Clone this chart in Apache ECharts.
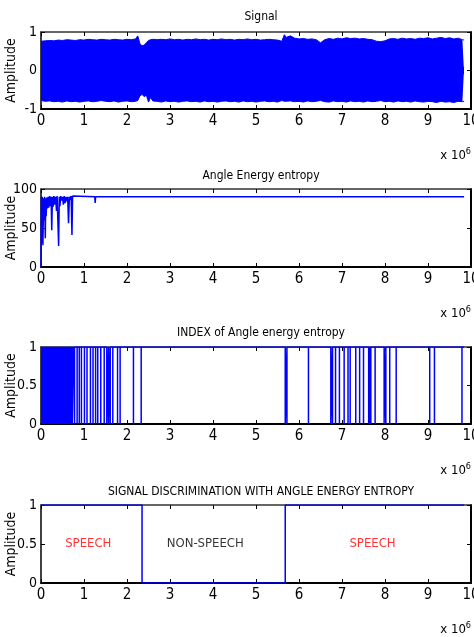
<!DOCTYPE html>
<html>
<head>
<meta charset="utf-8">
<script src="https://cdn.jsdelivr.net/npm/echarts@6/dist/echarts.min.js"></script>
<style>
  html, body { margin: 0; padding: 0; background: #fff; }
  #chart { width: 474px; height: 637px; }
</style>
</head>
<body>
<div id="chart"></div>
<script>
// x values are in units of 10^6 samples
const xTicks = [0, 1, 2, 3, 4, 5, 6, 7, 8, 9, 10];

// Signal envelope (upper / lower amplitude)
const signalX = [0, 0.1, 0.2, 0.3, 0.4, 0.5, 0.6, 0.7, 0.8, 0.9, 1.0, 1.1, 1.2, 1.3, 1.4, 1.5, 1.6, 1.7, 1.8, 1.9,
  2.0, 2.1, 2.2, 2.25, 2.3, 2.35, 2.4, 2.45, 2.5, 2.55, 2.6, 2.7, 2.8, 2.9, 3.0, 3.1, 3.2, 3.3, 3.4, 3.5, 3.6, 3.7,
  3.8, 3.9, 4.0, 4.1, 4.2, 4.3, 4.4, 4.5, 4.6, 4.7, 4.8, 4.9, 5.0, 5.1, 5.2, 5.3, 5.4, 5.5, 5.6, 5.64, 5.66, 5.7,
  5.8, 5.9, 6.0, 6.1, 6.2, 6.3, 6.4, 6.5, 6.6, 6.7, 6.8, 6.9, 7.0, 7.1, 7.2, 7.3, 7.4, 7.5, 7.6, 7.7, 7.8, 7.9, 8.0,
  8.1, 8.2, 8.3, 8.4, 8.5, 8.6, 8.7, 8.8, 8.9, 9.0, 9.1, 9.2, 9.3, 9.4, 9.5, 9.6, 9.7, 9.8, 9.84];
const signalUpper = [0.76, 0.77, 0.78, 0.77, 0.79, 0.78, 0.80, 0.79, 0.78, 0.80, 0.79, 0.81, 0.80, 0.79, 0.81, 0.80,
  0.79, 0.81, 0.80, 0.79, 0.81, 0.80, 0.82, 0.90, 0.70, 0.64, 0.66, 0.72, 0.78, 0.80, 0.81, 0.80, 0.81, 0.80, 0.82,
  0.80, 0.81, 0.79, 0.81, 0.80, 0.82, 0.80, 0.81, 0.79, 0.81, 0.80, 0.82, 0.80, 0.81, 0.79, 0.81, 0.80, 0.82, 0.80,
  0.81, 0.79, 0.80, 0.81, 0.80, 0.79, 0.76, 0.74, 0.93, 0.86, 0.90, 0.84, 0.82, 0.83, 0.81, 0.82, 0.80, 0.72, 0.80,
  0.83, 0.81, 0.84, 0.82, 0.85, 0.83, 0.84, 0.82, 0.83, 0.81, 0.80, 0.76, 0.75, 0.77, 0.82, 0.83, 0.81, 0.84, 0.82,
  0.83, 0.81, 0.84, 0.83, 0.85, 0.82, 0.84, 0.86, 0.83, 0.85, 0.82, 0.84, 0.80, 0.79];
const signalLower = [-0.78, -0.80, -0.79, -0.81, -0.80, -0.82, -0.79, -0.81, -0.80, -0.82, -0.80, -0.79, -0.81, -0.80,
  -0.78, -0.80, -0.81, -0.79, -0.82, -0.80, -0.79, -0.81, -0.80, -0.78, -0.66, -0.62, -0.68, -0.64, -0.82, -0.70,
  -0.79, -0.80, -0.82, -0.79, -0.81, -0.80, -0.82, -0.80, -0.79, -0.81, -0.80, -0.82, -0.79, -0.81, -0.80, -0.82,
  -0.80, -0.79, -0.81, -0.80, -0.82, -0.79, -0.81, -0.80, -0.82, -0.80, -0.79, -0.81, -0.80, -0.82, -0.78, -0.76,
  -0.80, -0.82, -0.79, -0.81, -0.80, -0.82, -0.79, -0.81, -0.80, -0.78, -0.81, -0.82, -0.79, -0.81, -0.80, -0.82,
  -0.79, -0.81, -0.80, -0.82, -0.79, -0.81, -0.80, -0.78, -0.81, -0.80, -0.82, -0.79, -0.81, -0.80, -0.82, -0.79,
  -0.81, -0.82, -0.80, -0.81, -0.83, -0.80, -0.82, -0.81, -0.83, -0.80, -0.81, -0.80];

// Angle energy entropy
const entropyX = [0, 0.01, 0.02, 0.03, 0.045, 0.06, 0.07, 0.085, 0.1, 0.11, 0.12, 0.135, 0.15, 0.165, 0.18, 0.2,
  0.22, 0.235, 0.25, 0.265, 0.28, 0.3, 0.32, 0.34, 0.36, 0.375, 0.41, 0.425, 0.44, 0.46, 0.48, 0.5, 0.52, 0.54,
  0.56, 0.58, 0.6, 0.62, 0.64, 0.66, 0.68, 0.7, 0.72, 0.735, 1.25, 1.26, 1.27, 7.65, 7.66, 7.67, 9.84];
const entropyY = [0, 90, 30, 90, 28, 88, 60, 90, 37, 88, 65, 89, 75, 90, 76, 91, 78, 90, 47, 90, 77, 91, 80, 90,
  72, 91, 27, 90, 78, 91, 85, 90, 80, 91, 82, 90, 84, 90, 56, 90, 86, 91, 41, 91, 90, 82, 90, 90, 88, 90, 90];

// INDEX of angle energy entropy: dense switching block, then single drops to 0
const indexDenseEnd = 0.745;
const indexDrops = [0.78, 0.84, 0.89, 0.94, 1.01, 1.07, 1.15, 1.21, 1.27, 1.32, 1.39, 1.47, 1.53, 1.57, 1.61,
  1.67, 1.78, 1.84, 2.15, 2.33, 5.68, 5.72, 6.22, 6.74, 6.78, 6.85, 6.94, 7.05, 7.14, 7.19, 7.32, 7.41, 7.50,
  7.62, 7.64, 7.67, 7.77, 7.98, 8.02, 8.11, 8.26, 9.04, 9.15, 9.79];
const indexEnd = 9.84;

// Discrimination: segment edges and state
const segEdges = [0, 2.35, 5.68, 9.84];
const segState = [1, 0, 1];
const segLabels = ['SPEECH', 'NON-SPEECH', 'SPEECH'];
const segLabelX = [1.1, 3.82, 7.71];
const segLabelColors = ['#ff0000', '#000000', '#ff0000'];

const titles = ['Signal', 'Angle Energy entropy', 'INDEX of Angle energy entropy',
  'SIGNAL DISCRIMINATION WITH ANGLE ENERGY ENTROPY'];

const fontFam = "'Liberation Sans Narrow', 'DejaVu Sans Condensed', 'Liberation Sans', sans-serif";
const blue = '#0000ff';

const grids = [
  { left: 41, top: 32, width: 430, height: 77, outerBoundsMode: 'none' },
  { left: 41, top: 189, width: 430, height: 78, outerBoundsMode: 'none' },
  { left: 41, top: 347, width: 430, height: 77, outerBoundsMode: 'none' },
  { left: 41, top: 505, width: 430, height: 78, outerBoundsMode: 'none' }
];
const titleTops = [6, 165, 322, 481];
const yRanges = [[-1, 1, 1], [0, 100, 50], [0, 1, 0.5], [0, 1, 0.5]];

let xAxes = [];
let yAxes = [];
grids.forEach((g, i) => {
  xAxes.push({
    gridIndex: i, type: 'value', position: 'bottom',
    min: xTicks[0], max: xTicks[xTicks.length - 1], interval: 1,
    axisLine: { onZero: false, lineStyle: { color: '#000', width: 2 } },
    axisTick: { inside: true, length: 4, lineStyle: { color: '#000' } },
    axisLabel: { color: '#000', fontSize: 15, fontFamily: fontFam, margin: 5 },
    splitLine: { show: false },
    name: 'x 10{s|6}', nameLocation: 'end', nameGap: 0, nameMoveOverlap: false,
    nameTextStyle: {
      color: '#000', fontSize: 13, fontFamily: fontFam, align: 'right', verticalAlign: 'top',
      padding: [38, 0, 0, 0],
      rich: { s: { fontSize: 9, fontFamily: fontFam, color: '#000', verticalAlign: 'top', padding: [0, 0, 8, 0] } }
    }
  });
  xAxes.push({
    gridIndex: i, type: 'value', position: 'top',
    min: xTicks[0], max: xTicks[xTicks.length - 1], interval: 1,
    axisLine: { onZero: false, lineStyle: { color: '#333', width: 1.5 } },
    axisTick: { inside: true, length: 4, lineStyle: { color: '#000' } },
    axisLabel: { show: false },
    splitLine: { show: false }
  });
  const r = yRanges[i];
  yAxes.push({
    gridIndex: i, type: 'value', position: 'left',
    min: r[0], max: r[1], interval: r[2],
    axisLine: { show: true, onZero: false, lineStyle: { color: '#000', width: 1.5 } },
    axisTick: { show: true, inside: true, length: 4, lineStyle: { color: '#000' } },
    axisLabel: { color: '#000', fontSize: 14, fontFamily: fontFam, margin: 4 },
    splitLine: { show: false },
    name: 'Amplitude', nameLocation: 'middle', nameGap: 23, nameMoveOverlap: false,
    nameTextStyle: { color: '#000', fontSize: 14, fontFamily: fontFam }
  });
  yAxes.push({
    gridIndex: i, type: 'value', position: 'right',
    min: r[0], max: r[1], interval: r[2],
    axisLine: { show: true, onZero: false, lineStyle: { color: '#000', width: 2 } },
    axisTick: { show: true, inside: true, length: 4, lineStyle: { color: '#000' } },
    axisLabel: { show: false },
    splitLine: { show: false }
  });
});

// build plotted point lists from the arrays above
const upperData = signalX.map((x, k) => [x, signalUpper[k]]);
const lowerData = signalX.map((x, k) => [x, signalLower[k]]);
const entropyData = entropyX.map((x, k) => [x, entropyY[k]]);

let indexData = [[indexDenseEnd, 1]];
indexDrops.forEach(p => {
  indexData.push([p, 1], [p, 0], [p, 1]);
});
indexData.push([indexEnd, 1]);

let segData = [];
segState.forEach((s, k) => {
  segData.push([segEdges[k], s], [segEdges[k + 1], s]);
});

const labelData = segLabels.map((name, k) => ({
  name: name,
  value: [segLabelX[k], 0.5],
  label: { color: segLabelColors[k] }
}));

let option = {
  animation: false,
  backgroundColor: '#fff',
  title: titles.map((t, i) => ({
    text: t, left: 256, top: titleTops[i], textAlign: 'center',
    textStyle: { fontSize: 12, fontWeight: 'normal', color: '#000', fontFamily: fontFam }
  })),
  grid: grids,
  xAxis: xAxes,
  yAxis: yAxes,
  series: [
    {
      type: 'line', xAxisIndex: 0, yAxisIndex: 0, data: upperData, showSymbol: false,
      lineStyle: { color: blue, width: 1 }, areaStyle: { color: blue, opacity: 1, origin: -0.1 }
    },
    {
      type: 'line', xAxisIndex: 0, yAxisIndex: 0, data: lowerData, showSymbol: false,
      lineStyle: { color: blue, width: 1 }, areaStyle: { color: blue, opacity: 1, origin: 0.1 }
    },
    {
      type: 'line', xAxisIndex: 2, yAxisIndex: 2, data: entropyData, showSymbol: false,
      lineStyle: { color: blue, width: 1.5 }
    },
    {
      type: 'line', xAxisIndex: 4, yAxisIndex: 4, data: [[0, 1], [indexDenseEnd, 1]], showSymbol: false,
      lineStyle: { color: blue, width: 1 }, areaStyle: { color: blue, opacity: 1 }
    },
    {
      type: 'line', xAxisIndex: 4, yAxisIndex: 4, data: indexData, showSymbol: false,
      lineStyle: { color: blue, width: 1.5 }
    },
    {
      type: 'line', xAxisIndex: 6, yAxisIndex: 6, data: segData, showSymbol: false,
      lineStyle: { color: blue, width: 1.5 }
    },
    {
      type: 'scatter', xAxisIndex: 6, yAxisIndex: 6, data: labelData, symbolSize: 0,
      label: { show: true, position: 'inside', formatter: p => p.name, fontSize: 13, fontFamily: fontFam }
    }
  ]
};

let chart = echarts.init(document.getElementById('chart'));
chart.setOption(option);
</script>
</body>
</html>
